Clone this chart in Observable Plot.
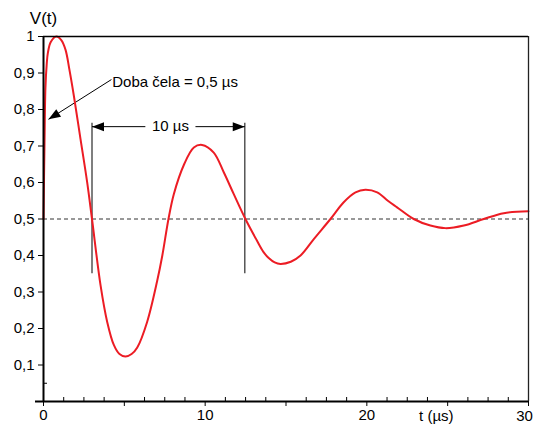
<!DOCTYPE html>
<html><head><meta charset="utf-8">
<script src="https://cdn.jsdelivr.net/npm/d3@7"></script>
<script src="https://cdn.jsdelivr.net/npm/@observablehq/plot@0.6"></script>
<style>body{margin:0;background:#fff} svg{display:block}</style>
</head><body><div id="chart"></div>
<script>
// Voltage waveform V(t), t in µs
const tVals = [0, 0.06, 0.12, 0.2, 0.27, 0.45, 0.8, 1.1, 1.36, 1.6, 1.88, 2.29, 2.7, 3.0,
  3.53, 3.94, 4.35, 4.7, 5.07, 5.45, 5.8, 6.41, 7.03, 7.35, 7.73,
  8.06, 8.68, 9.3, 9.81, 10.53, 11.15, 11.77, 12.49, 13.2, 13.6, 13.93, 14.3, 14.66, 15.3, 15.9, 16.72, 17.75,
  18.57, 19.3, 19.91, 20.64, 21.3, 21.87, 22.9, 23.93, 24.86, 26.0, 27.23, 28.47, 30];
const vVals = [0.5, 0.7, 0.86, 0.925, 0.955, 0.985, 1.0, 0.99, 0.964, 0.91, 0.837, 0.719, 0.601, 0.5,
  0.318, 0.218, 0.155, 0.13, 0.123, 0.13, 0.148, 0.218, 0.33, 0.4, 0.5,
  0.568, 0.648, 0.696, 0.703, 0.682, 0.628, 0.568, 0.5, 0.441, 0.41, 0.393, 0.381, 0.377, 0.383, 0.4, 0.445, 0.5,
  0.546, 0.573, 0.58, 0.573, 0.55, 0.532, 0.5, 0.482, 0.475, 0.482, 0.5, 0.516, 0.521];

const yTicks = [0.1, 0.2, 0.3, 0.4, 0.5, 0.6, 0.7, 0.8, 0.9, 1];
const yMinorTicks = [0.05];
const xMajorTicks = [0, 5, 10, 15, 20, 25, 30];
const xLabelTicks = [0, 10, 20];
const xLastLabel = 30;
const xMinorTicks = [1.25, 2.5, 3.75, 6.25, 7.5, 8.75, 11.25, 12.5, 13.75, 16.25, 17.5, 18.75, 21.25, 22.5, 23.75, 26.25, 27.5, 28.75];

const refLevel = [0.5];
const spanT = [3.0, 12.45];          // vertical markers
const spanY = [0.35, 0.762];         // their extent
const spanArrowY = 0.753;
const spanSegments = [[3.0, 6.3], [9.4, 12.45]];
const spanLabel = "10 µs";
const spanLabelT = 7.85;
const leaderFrom = [4.2, 0.882];
const leaderTo = [0.31, 0.773];
const leaderLabel = "Doba čela = 0,5 µs";
const leaderLabelPos = [4.25, 0.876];
const yTitle = "V(t)";
const xTitle = "t (µs)";
const xTitlePos = 24.3;

const W = 533, H = 425, mL = 43, mR = 5, mT = 36, mB = 24;
const red = "#ec1c24";
const data = tVals.map((t, i) => ({t, v: vVals[i]}));

// arrowhead symbol with tip at origin, pointing +x
const headSym = {draw(ctx) { ctx.moveTo(0, 0); ctx.lineTo(-12, -4.5); ctx.lineTo(-12, 4.5); ctx.closePath(); }};
const kx = (W - mL - mR) / 30, ky = (H - mT - mB) / 1;
const leaderAngle = Math.atan2(-(leaderTo[1] - leaderFrom[1]) * ky, (leaderTo[0] - leaderFrom[0]) * kx) * 180 / Math.PI;
const heads = [
  {x: spanT[0], y: spanArrowY, a: 180},
  {x: spanT[1], y: spanArrowY, a: 0},
  {x: leaderTo[0], y: leaderTo[1], a: leaderAngle}
];
const fmt = d => d3.format(".1~f")(d).replace(".", ",");

const chart = Plot.plot({
  width: W, height: H,
  marginLeft: mL, marginRight: mR, marginTop: mT, marginBottom: mB,
  style: {fontFamily: "'Liberation Sans', Arial, sans-serif", fontSize: "15px", background: "white", color: "black"},
  x: {domain: [0, 30], label: null},
  y: {domain: [0, 1], label: null},
  marks: [
    Plot.ruleY(refLevel, {stroke: "#333", strokeWidth: 1, strokeDasharray: "4,3"}),
    Plot.ruleX(spanT, {y1: spanY[0], y2: spanY[1], stroke: "#555", strokeWidth: 1.5}),
    Plot.link(spanSegments, {x1: d => d[0], x2: d => d[1], y1: spanArrowY, y2: spanArrowY, stroke: "black", strokeWidth: 1}),
    Plot.text([spanLabel], {x: spanLabelT, y: spanArrowY, fontSize: 15, textAnchor: "middle"}),
    Plot.link([0], {x1: leaderFrom[0], y1: leaderFrom[1], x2: leaderTo[0], y2: leaderTo[1], stroke: "black", strokeWidth: 1}),
    Plot.text([leaderLabel], {x: leaderLabelPos[0], y: leaderLabelPos[1], textAnchor: "start", fontSize: 15}),
    Plot.line(data, {x: "t", y: "v", stroke: red, strokeWidth: 2, curve: "catmull-rom"}),
    Plot.dot(heads, {x: "x", y: "y", rotate: "a", symbol: headSym, r: 4, fill: "black", stroke: "none"}),
    // frame
    Plot.ruleY([1], {stroke: "black", strokeWidth: 1.3}),
    Plot.ruleX([30], {stroke: "#222", strokeWidth: 1.3}),
    // axes
    Plot.ruleX([0], {stroke: "black", strokeWidth: 2}),
    Plot.ruleY([0], {stroke: "black", strokeWidth: 2, insetLeft: -8}),
    Plot.axisY(yTicks, {tickSize: 5, tickPadding: 4, tickFormat: fmt, fontSize: 15, label: null}),
    Plot.axisY(yMinorTicks, {tickSize: 4, dx: 4, tickFormat: () => "", label: null}),
    Plot.axisX(xMajorTicks, {tickSize: 5, tickPadding: 3, tickFormat: d => xLabelTicks.includes(d) ? String(d) : "", fontSize: 15, label: null}),
    Plot.axisX(xMinorTicks, {tickSize: 4, dy: -4, tickFormat: () => "", label: null}),
    Plot.text([String(xLastLabel)], {x: xLastLabel, y: 0, dy: 15, dx: -4, fontSize: 15, textAnchor: "middle"}),
    Plot.text([yTitle], {x: 0, y: 1, dy: -18, fontSize: 17, textAnchor: "middle"}),
    Plot.text([xTitle], {x: xTitlePos, y: 0, dy: 15, fontSize: 15, textAnchor: "middle"})
  ]
});
document.getElementById("chart").appendChild(chart);
</script>
</body></html>
